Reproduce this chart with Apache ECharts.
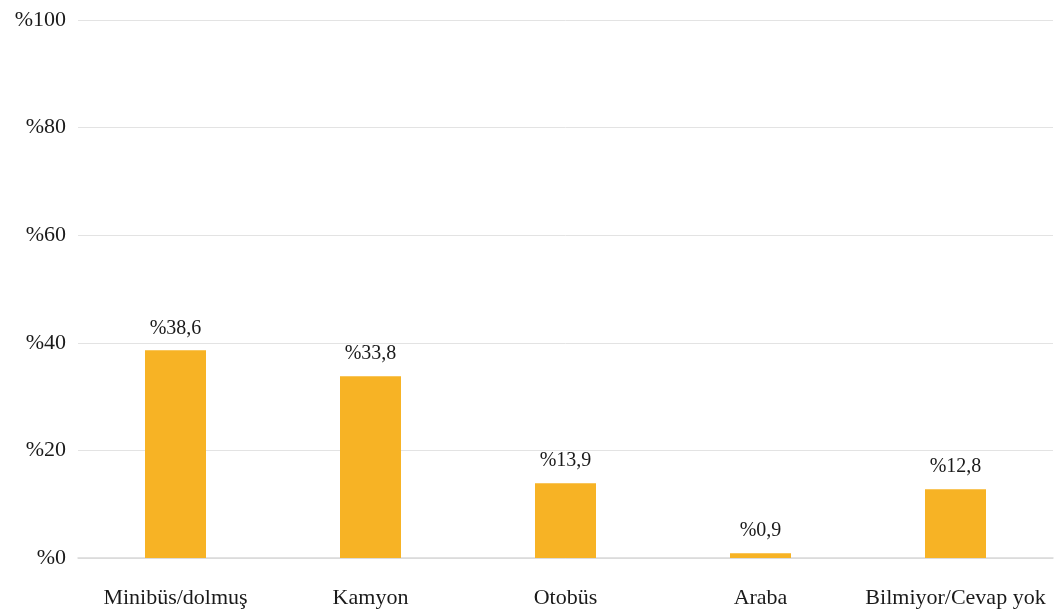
<!DOCTYPE html>
<html><head><meta charset="utf-8">
<script src="https://cdn.jsdelivr.net/npm/echarts@6/dist/echarts.min.js"></script>
<style>html,body{margin:0;padding:0;background:#fff}#c{width:1055px;height:609px}</style>
</head><body><div id="c"></div>
<script>
const categories = ["Minibüs/dolmuş", "Kamyon", "Otobüs", "Araba", "Bilmiyor/Cevap yok"];
const values = [38.6, 33.8, 13.9, 0.9, 12.8];
const yTicks = [0, 20, 40, 60, 80, 100];
const FONT = "Liberation Serif";
const chart = echarts.init(document.getElementById('c'));
chart.setOption({
  animation: false,
  grid: {left: 78, right: 2, top: 20, bottom: 51},
  xAxis: {
    type: 'category', data: categories,
    axisLine: {lineStyle: {color: '#d9d9d9', width: 1.5}},
    axisTick: {show: false},
    axisLabel: {interval: 0, color: '#1a1a1a', fontFamily: FONT, fontSize: 22, margin: 29}
  },
  yAxis: {
    type: 'value', min: yTicks[0], max: yTicks[yTicks.length-1], interval: 20,
    axisLine: {show: false}, axisTick: {show: false},
    splitLine: {lineStyle: {color: '#e3e3e3', width: 1}},
    axisLabel: {color: '#1a1a1a', fontFamily: FONT, fontSize: 22, margin: 12,
      formatter: v => '%' + v}
  },
  series: [{
    type: 'bar', data: values, barWidth: 61,
    itemStyle: {color: '#F7B325'},
    label: {show: true, position: 'top', distance: 12, color: '#1a1a1a',
      fontFamily: FONT, fontSize: 20,
      formatter: p => '%' + String(p.value).replace('.', ',')}
  }]
});
</script></body></html>
